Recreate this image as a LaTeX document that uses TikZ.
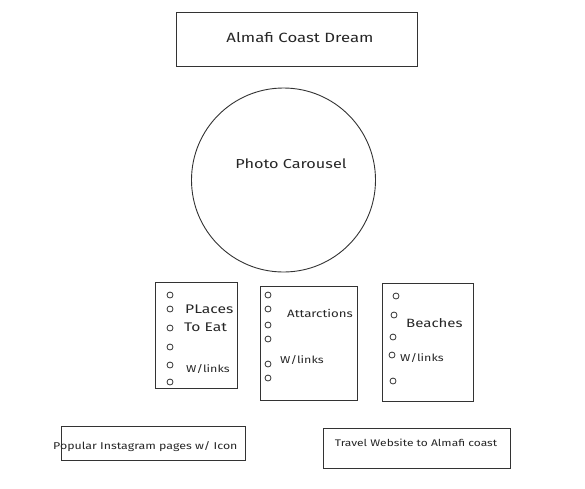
\documentclass[tikz,border=0pt]{standalone}
\usepackage{fontspec}
\setmainfont{Fira Sans}[FakeStretch=1.25]
\begin{document}
\begin{tikzpicture}[x=1pt,y=-1pt,
  ink/.style={draw=black!80,line width=0.9pt},
  hole/.style={ink,circle,minimum size=6pt,inner sep=0pt,line width=0.8pt},
  lbl/.style={text=black!85,inner sep=0pt,font=\fontsize{10}{12}\selectfont},
  small/.style={text=black!85,inner sep=0pt,font=\fontsize{9.9}{11}\selectfont}]
\useasboundingbox (0,0) rectangle (585,488);

% title banner
\draw[ink] (176,12) rectangle (417,66);
\node[lbl,font=\fontsize{13.4}{16}\selectfont] (title) at (300,38) {Almafi Coast Dream};

% photo carousel
\draw[ink] (283.5,180) circle (92);
\node[lbl,font=\fontsize{13}{15}\selectfont] (carousel) at (291,164) {Photo Carousel};

% notebook card: places to eat
\draw[ink] (155,282) rectangle (237,388);
\foreach \y [count=\i] in {295,309,328,347,365,382}
  \node[hole] (pa\i) at (170,\y) {};
\node[lbl,anchor=west,font=\fontsize{12.5}{14}\selectfont] (places) at (185,309) {PLaces};
\node[lbl,anchor=west,font=\fontsize{12.5}{14}\selectfont] (eat) at (184,327) {To Eat};
\node[lbl,anchor=west] (linksa) at (186,369) {W/links};

% notebook card: attractions
\draw[ink] (260,286) rectangle (357,400);
\foreach \y [count=\i] in {295,309,325,339,364,378}
  \node[hole] (pb\i) at (268,\y) {};
\node[lbl,anchor=west,font=\fontsize{10.6}{12}\selectfont] (attr) at (287,313) {Attarctions};
\node[lbl,anchor=west] (linksb) at (280,360) {W/links};

% notebook card: beaches
\draw[ink] (382,283) rectangle (473,401);
\foreach \y/\x [count=\i] in {296/396,315/394,337/393,355/392,381/393}
  \node[hole] (pc\i) at (\x,\y) {};
\node[lbl,anchor=west,font=\fontsize{12}{14}\selectfont] (beach) at (406,323) {Beaches};
\node[lbl,anchor=west] (linksc) at (400,358) {W/links};

% footer boxes
\draw[ink] (61,426) rectangle (245,460);
\node[small,anchor=west] (insta) at (53,447) {Popular Instagram pages w/ Icon};
\draw[ink] (323,428) rectangle (510,468);
\node[small,font=\fontsize{9.6}{11}\selectfont] (travel) at (416,443) {Travel Website to Almafi coast};
\end{tikzpicture}
\end{document}
